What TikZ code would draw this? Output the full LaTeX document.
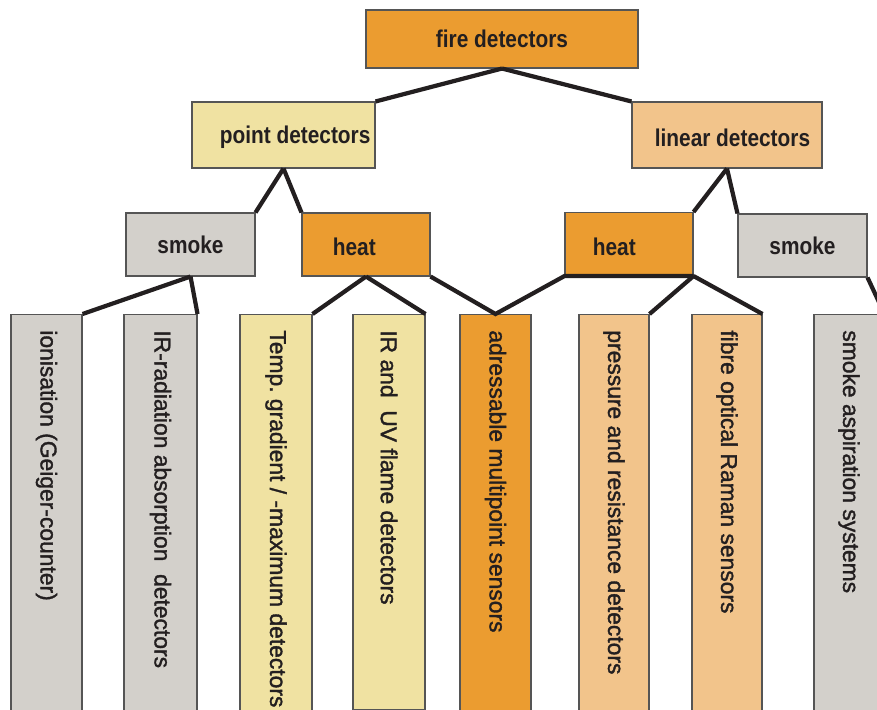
\documentclass[tikz,border=0pt]{standalone}
\usepackage{fontspec}
\setmainfont{Liberation Sans}
\newfontfamily\headfont[FakeStretch=0.86]{Liberation Sans}
\newfontfamily\leaffont[FakeBold=1.5]{Liberation Sans}
\usepackage{tikz}
\usetikzlibrary{positioning}
\definecolor{DetOrange}{HTML}{EB9C30}
\definecolor{DetYellow}{HTML}{F0E2A2}
\definecolor{DetPeach}{HTML}{F2C48B}
\definecolor{DetGrey}{HTML}{D3D0CB}
\definecolor{DetInk}{HTML}{231F20}
\definecolor{DetEdge}{HTML}{555555}

\begin{document}
\begin{tikzpicture}[
  box/.style={draw=DetEdge, line width=0.6pt, inner sep=0pt, text=DetInk,
              font=\headfont\bfseries\fontsize{13.8}{16}\selectfont},
  head/.style={box, minimum height=1.32cm},
  kind/.style={box, minimum height=1.26cm},
  boxtext/.style={anchor=west, inner sep=0pt, text=DetInk, yshift=-0.05cm,
                  font=\headfont\bfseries\fontsize{13.8}{16}\selectfont},
  leaf/.style={draw=DetEdge, line width=0.6pt, anchor=north,
               minimum height=8.4cm, inner sep=0pt},
  leaftext/.style={rotate=-90, anchor=west, inner sep=0pt, text=DetInk,
                   font=\leaffont\fontsize{13}{15}\selectfont},
  link/.style={draw=DetInk, line width=2.4pt}
]
\useasboundingbox (0,0) rectangle (17.54,-14.2);
\clip (0,0) rectangle (17.54,-14.2);

% top and second row
\node[box, fill=DetOrange, minimum width=5.44cm, minimum height=1.16cm] (fire)
  at (10.04,-0.78) {fire detectors};
\node[head, fill=DetYellow, minimum width=3.66cm] (point) at (5.67,-2.70) {};
\node[boxtext] (point-t) at ([xshift=0.56cm]point.west) {point detectors};
\node[head, fill=DetPeach, minimum width=3.80cm] (linear) at (14.54,-2.70) {};
\node[boxtext] (linear-t) at ([xshift=0.46cm]linear.west) {linear detectors};

% third row
\node[kind, fill=DetGrey, minimum width=2.58cm] (smokeL) at (3.81,-4.89) {smoke};
\node[kind, fill=DetOrange, minimum width=2.56cm] (heatL) at (7.32,-4.89) {};
\node[boxtext] (heatL-t) at ([xshift=0.62cm]heatL.west) {heat};
\node[kind, fill=DetOrange, minimum width=2.56cm] (heatR) at (12.58,-4.88) {};
\node[boxtext] (heatR-t) at ([xshift=0.56cm]heatR.west) {heat};
\node[kind, fill=DetGrey, minimum width=2.58cm] (smokeR) at (16.05,-4.91) {smoke};

% leaves
\node[leaf, fill=DetGrey, minimum width=1.42cm] (ion) at (0.93,-6.28) {};
\node[leaf, fill=DetGrey, minimum width=1.46cm] (irrad) at (3.21,-6.28) {};
\node[leaf, fill=DetYellow, minimum width=1.44cm] (temp) at (5.52,-6.28) {};
\node[leaf, fill=DetYellow, minimum width=1.44cm, minimum height=7.9cm] (iruv) at (7.78,-6.28) {};
\node[leaf, fill=DetOrange, minimum width=1.42cm] (addr) at (9.91,-6.28) {};
\node[leaf, fill=DetPeach, minimum width=1.40cm] (press) at (12.28,-6.28) {};
\node[leaf, fill=DetPeach, minimum width=1.40cm] (fibre) at (14.54,-6.28) {};
\node[leaf, fill=DetGrey, minimum width=1.40cm] (aspir) at (16.98,-6.28) {};

\node[leaftext] (ion-t) at ([yshift=-0.32cm]ion.north) {ionisation (Geiger-counter)};
\node[leaftext] (irrad-t) at ([yshift=-0.32cm]irrad.north) {IR-radiation absorption\ \ detectors};
\node[leaftext] (temp-t) at ([yshift=-0.32cm]temp.north) {Temp.\ gradient / -maximum detectors};
\node[leaftext] (iruv-t) at ([yshift=-0.32cm]iruv.north) {IR and\ \ UV flame detectors};
\node[leaftext] (addr-t) at ([yshift=-0.32cm]addr.north) {adressable multipoint sensors};
\node[leaftext] (press-t) at ([yshift=-0.32cm]press.north) {pressure and resistance detectors};
\node[leaftext] (fibre-t) at ([yshift=-0.32cm]fibre.north) {fibre optical Raman sensors};
\node[leaftext] (aspir-t) at ([yshift=-0.32cm]aspir.north) {smoke aspiration systems};

% connectors
\draw[link] (fire.south) -- (point.north east) (fire.south) -- (linear.north west);
\draw[link] (point.south) -- (smokeL.north east) (point.south) -- (heatL.north west);
\draw[link] (linear.south) -- (heatR.north east) (linear.south) -- (smokeR.north west);
\draw[link] (smokeL.south) -- (ion.north east) (smokeL.south) -- (irrad.north east);
\draw[link] (heatL.south) -- (temp.north east) (heatL.south) -- (iruv.north east);
\draw[link] (heatL.south east) -- (addr.north) -- (heatR.south west) -- (heatR.south east);
\draw[link] (heatR.south east) -- (press.north east) (heatR.south east) -- (fibre.north east);
\draw[link] (smokeR.south east) -- (aspir.north east);
\end{tikzpicture}
\end{document}
